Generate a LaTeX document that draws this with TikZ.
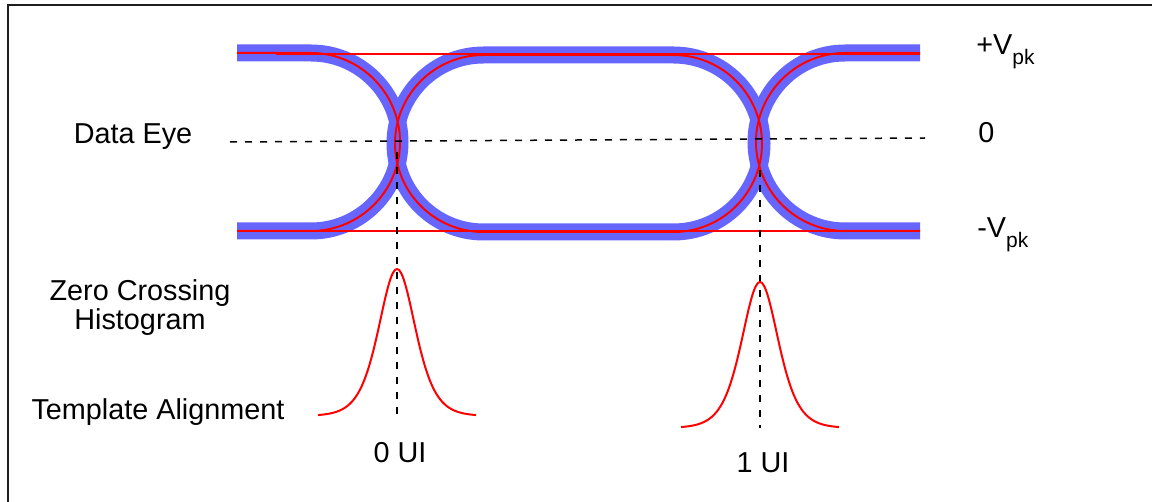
\documentclass[tikz,border=0pt]{standalone}
\usepackage{fontspec}
\setmainfont{Liberation Sans}
\usepackage{xcolor}
\usepackage{tikz}
\usetikzlibrary{calc,positioning}
\definecolor{eyeBlue}{RGB}{102,102,255}
\definecolor{tmplRed}{RGB}{255,0,0}
\definecolor{frameGray}{RGB}{30,30,30}
\newcommand{\pksub}{\raisebox{-4.7pt}{\fontsize{10.5}{12}\selectfont pk}}

\begin{document}
\begin{tikzpicture}[x=0.5pt,y=-0.5pt,
  eye/.style={eyeBlue, line width=8.5pt},
  tmpl/.style={tmplRed, line width=1pt},
  guide/.style={black, line width=0.75pt, dash pattern=on 3.5pt off 4pt},
  lbl/.style={font=\fontsize{14.4}{14.5}\selectfont, inner sep=0pt}]
\useasboundingbox (0,0) rectangle (1152,502);
\draw[frameGray, line width=1pt] (8,502) -- (8,5) -- (1152,5);

% eye traces, blue band first and red template on top
\foreach \st in {eye,tmpl}
{
    \draw[\st] (237,53) -- (311,53) .. controls (360,53) and (400,93) .. (400,142)
        .. controls (400,191) and (360,231) .. (311,231) -- (237,231);
    \draw[\st] (483.5,55) -- (673.5,55) .. controls (722.4,55) and (762,94.6) .. (762,143.5)
        .. controls (762,192.4) and (722.4,232) .. (673.5,232) -- (483.5,232)
        .. controls (434.6,232) and (395,192.4) .. (395,143.5)
        .. controls (395,94.6) and (434.6,55) .. (483.5,55) -- cycle;
    \draw[\st] (920,53) -- (845,53) .. controls (796,53) and (756,93) .. (756,142)
        .. controls (756,191) and (796,231) .. (845,231) -- (920,231);
}
\draw[tmpl] (276,54) -- (920,54);
\draw[tmpl] (288,231) -- (920,231);

% zero line and crossing markers
\draw[guide] (230,142) -- (925,138);
\coordinate (cross0) at (397,152);
\coordinate (cross1) at (760,170);
\coordinate (foot0) at (397,416);
\coordinate (foot1) at (760,428);
\draw[guide] (cross0) -- (foot0);
\draw[guide] (cross1) -- (foot1);

% histograms
\foreach \cx/\cb/\ch in {397/416/147,760/428/146}
{
    \draw[tmpl, domain=-79:79, samples=81, smooth, variable=\t]
        plot ({\cx+\t},{\cb-\ch/(cosh(\t/24.6))^2});
}

% labels
\node[lbl, anchor=base] (dataeye) at (133,144) {Data Eye};
\node[lbl, anchor=base, align=center] (zerocross) at (140,330) {Zero Crossing\\Histogram};
\node[lbl, anchor=base] (template) at (158,420) {Template Alignment};
\node[lbl, anchor=base] (ui0) at (400,462) {0 UI};
\node[lbl, anchor=base] (ui1) at (763,473) {1 UI};
\node[lbl, anchor=base west] (vpos) at (976,55) {+V\pksub};
\node[lbl, anchor=base west] (vzero) at (978,143) {0};
\node[lbl, anchor=base west] (vneg) at (977,238) {-V\pksub};
\end{tikzpicture}
\end{document}
